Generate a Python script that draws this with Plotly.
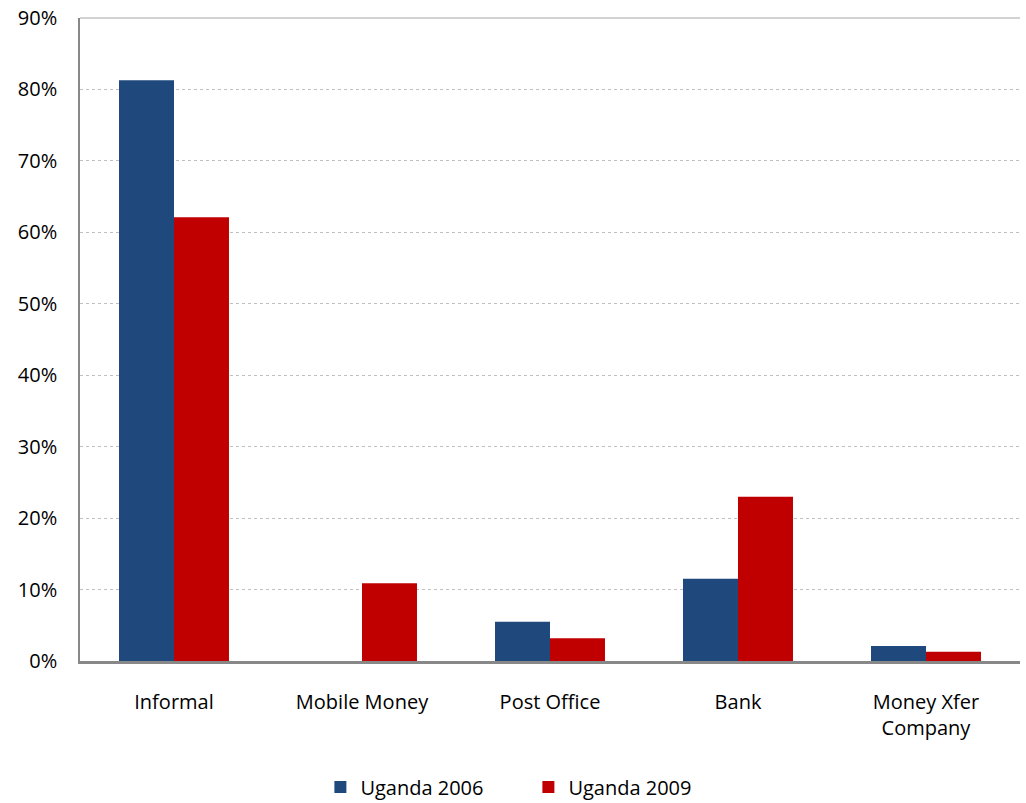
import plotly.graph_objects as go

categories = ["Informal", "Mobile Money", "Post Office", "Bank", "Money Xfer<br>Company"]
uganda_2006 = [81.3, 0.0, 5.5, 11.5, 2.1]
uganda_2009 = [62.1, 10.9, 3.2, 23.0, 1.3]
y_ticks = [0, 10, 20, 30, 40, 50, 60, 70, 80, 90]
y_tick_labels = [f"{v}%" for v in y_ticks]

FONT = "'Open Sans', Lato, sans-serif"

fig = go.Figure()
fig.add_trace(go.Bar(name="Uganda 2006", x=categories, y=uganda_2006,
                     marker=dict(color="#1F497D", line=dict(width=0))))
fig.add_trace(go.Bar(name="Uganda 2009", x=categories, y=uganda_2009,
                     marker=dict(color="#C00000", line=dict(width=0))))

fig.update_layout(
    width=1026, height=803,
    margin=dict(l=80, r=6, t=18, b=142, autoexpand=False),
    paper_bgcolor="white", plot_bgcolor="white",
    barmode="group", bargap=0.415, bargroupgap=0,
    font=dict(family=FONT, size=20, color="#000000"),
    showlegend=True,
    legend=dict(orientation="h", x=0.477, xanchor="center",
                yref="container", y=0.02, yanchor="middle",
                font=dict(size=20), traceorder="normal",
                itemsizing="constant", entrywidth=163),
    shapes=[dict(type="line", xref="x domain", yref="y domain",
                 x0=0, x1=1, y0=1, y1=1,
                 line=dict(color="#A6A6A6", width=1))],
)
fig.update_xaxes(
    showline=True, linecolor="#888888", linewidth=3,
    showgrid=False, ticks="", ticklabelstandoff=21,
    tickfont=dict(size=20), automargin=False,
)
fig.update_yaxes(
    range=[0, 90], tickvals=y_ticks, ticktext=y_tick_labels,
    showline=True, linecolor="#888888", linewidth=1.5,
    showgrid=True, gridcolor="#BFBFBF", gridwidth=1, griddash="dot",
    ticks="", ticklabelstandoff=17, zeroline=False,
    tickfont=dict(size=20), automargin=False,
)

fig.write_html("out.html")
